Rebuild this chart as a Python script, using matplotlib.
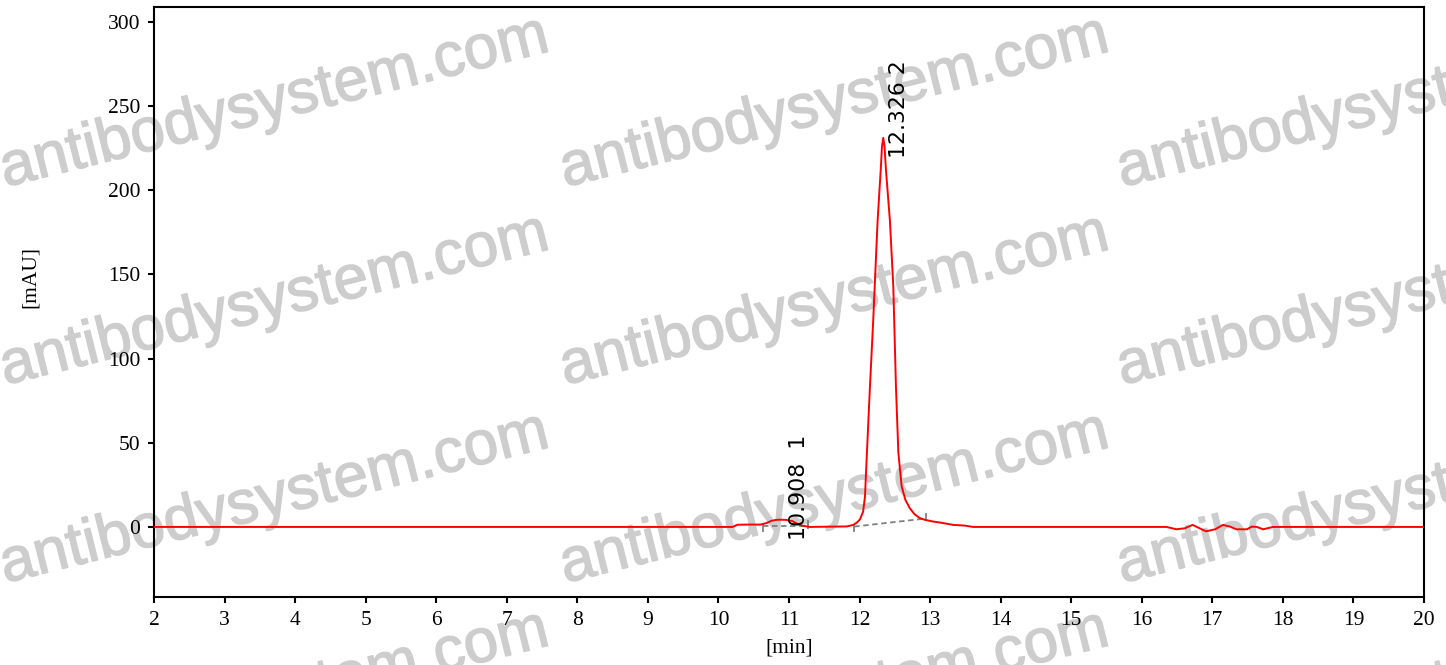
import matplotlib
matplotlib.use("Agg")
import matplotlib.pyplot as plt
import matplotlib.patheffects as pe

# ---- data ----
time_min = [2.0, 10.20, 10.27, 10.40, 10.60, 10.68, 10.75, 10.82, 10.87, 10.96, 11.04, 11.12,
            11.20, 11.30, 11.82, 11.91, 11.96, 12.006, 12.05, 12.077, 12.10, 12.147, 12.194,
            12.256, 12.30, 12.318, 12.336, 12.354, 12.374, 12.43, 12.478, 12.516, 12.55, 12.597,
            12.65, 12.714, 12.78, 12.856, 12.93, 13.04, 13.14, 13.25, 13.33, 13.49, 13.61,
            16.35, 16.49, 16.61, 16.72, 16.82, 16.91, 17.04, 17.15, 17.25, 17.34, 17.49,
            17.56, 17.63, 17.72, 17.86, 20.0]
signal_mau = [0.0, 0.0, 1.3, 1.4, 1.4, 2.3, 3.6, 4.2, 4.3, 4.2, 3.6, 1.8,
              0.6, 0.0, 0.3, 1.2, 2.5, 4.5, 9.0, 18.0, 40.0, 83.0, 123.0,
              182.0, 212.0, 226.0, 231.0, 226.0, 212.0, 182.0, 143.0, 83.0, 44.0, 24.0,
              16.0, 11.0, 7.5, 5.2, 4.2, 3.2, 2.6, 1.8, 1.2, 0.8, 0.0,
              0.0, -1.4, -0.8, 1.2, -0.8, -2.6, -1.4, 1.2, 0.2, -1.4, -1.4,
              0.2, 0.0, -1.4, 0.0, 0.0]

peak_rt = [10.908, 12.326]
peak_labels = ["10.908  1", "12.326 2"]
peak_label_y = [-7.7, 219.0]
base_start_t = [10.627, 11.925]
base_start_y = [0.5, 0.2]
base_end_t = [11.273, 12.94]
base_end_y = [0.5, 5.0]

x_ticks = list(range(2, 21))
y_ticks = [0, 50, 100, 150, 200, 250, 300]

W, H = 1446, 665
fig = plt.figure(figsize=(W / 100, H / 100), dpi=100)
ax = fig.add_axes([154 / W, 1 - 597 / H, (1424 - 154) / W, (597 - 7) / H])
ax.patch.set_alpha(0)

# watermark
wm_cols = [5, 565, 1122]
wm_rows = [187, 385, 583, 781]
for cx in wm_cols:
    for ry in wm_rows:
        fig.text(cx / W, 1 - ry / H, "antibodysystem.com", fontsize=44.5,
                 family="Liberation Sans", color="#cdcdcd", rotation=14,
                 rotation_mode="anchor", ha="left", va="baseline", zorder=-5,
                 path_effects=[pe.withStroke(linewidth=1.0, foreground="#cdcdcd")])

ax.plot(time_min, signal_mau, color="#ff0000", lw=1.4, zorder=3)

for i in range(len(peak_rt)):
    ax.plot([base_start_t[i], base_end_t[i]], [base_start_y[i], base_end_y[i]],
            color="#808080", lw=1.3, ls=(0, (3, 2)), zorder=2)
    ax.plot([base_start_t[i], base_start_t[i]], [base_start_y[i] + 1, base_start_y[i] - 2.8],
            color="#808080", lw=1.3, zorder=2)
    ax.plot([base_end_t[i], base_end_t[i]], [base_end_y[i] - 1, base_end_y[i] + 2.8],
            color="#808080", lw=1.3, zorder=2)

label_dx = [0.232, 0.24]
for i in range(len(peak_rt)):
    ax.text(peak_rt[i] + label_dx[i], peak_label_y[i], peak_labels[i],
            rotation=90, ha="center", va="bottom", fontsize=15.8, family="DejaVu Sans",
            color="black", zorder=4)

ax.set_xlim(2, 20)
ax.set_ylim(-41.6, 308.7)
ax.set_xticks(x_ticks)
ax.set_yticks(y_ticks)
for sp in ax.spines.values():
    sp.set_linewidth(1.5)
ax.tick_params(direction="out", length=4, width=1.5, pad=6, labelsize=15.5)
for lab in ax.get_xticklabels() + ax.get_yticklabels():
    lab.set_family("Liberation Serif")
ax.set_xlabel("[min]", family="Liberation Serif", fontsize=15.5)
ax.set_ylabel("[mAU]", family="Liberation Serif", fontsize=15.5)
ax.xaxis.set_label_coords(0.5, -(638 - 597) / (597 - 7))
ax.yaxis.set_label_coords(-(154 - 40) / (1424 - 154), (597 - 276.5) / (597 - 7))

fig.savefig("out.png", dpi=100)
